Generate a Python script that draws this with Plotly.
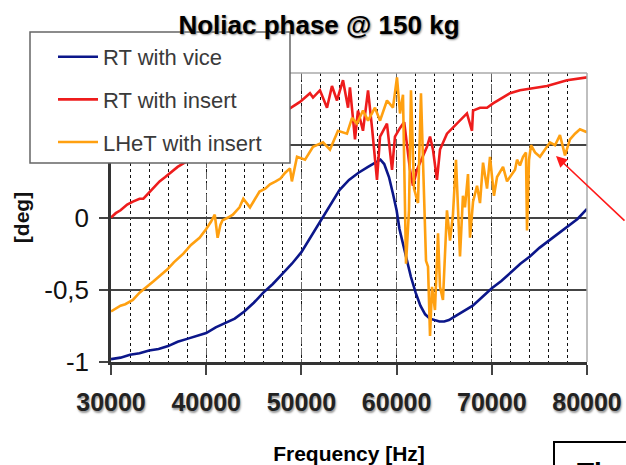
import plotly.graph_objects as go

# ---------------- data ----------------
title_text = "Noliac phase @ 150 kg"
series_names = ["RT with vice", "RT with insert", "LHeT with insert"]
x_tick_vals = [30000, 40000, 50000, 60000, 70000, 80000]
x_tick_text = ["30000", "40000", "50000", "60000", "70000", "80000"]
y_tick_vals = [-1, -0.5, 0, 0.5]
y_tick_text = ["-1", "-0,5", "0", "0,5"]

vice_f = [30000, 31000, 32000, 33000, 34000, 35000, 36000, 37000, 38000, 39000,
          40000, 41000, 42000, 43000, 44000, 45000, 46000, 47000, 48000, 49000,
          50000, 51000, 52000, 53000, 54000, 55000, 56000, 57000, 57500, 58000,
          58300, 58700, 59200, 59600, 60000, 60300, 60700, 61100, 61500, 62000,
          62500, 63000, 63500, 64000, 64500, 65000, 65500, 66000, 66500, 67000,
          68000, 69000, 70000, 71000, 72000, 73000, 74000, 75000, 76000, 77000,
          78000, 79000, 80000]
vice_v = [-0.98, -0.97, -0.95, -0.94, -0.92, -0.91, -0.89, -0.86, -0.84, -0.82,
          -0.80, -0.76, -0.73, -0.70, -0.65, -0.59, -0.52, -0.46, -0.39, -0.32,
          -0.24, -0.13, -0.02, 0.09, 0.19, 0.26, 0.31, 0.35, 0.37, 0.39,
          0.40, 0.37, 0.28, 0.17, 0.05, -0.08, -0.18, -0.30, -0.41, -0.52,
          -0.61, -0.67, -0.70, -0.71, -0.72, -0.72, -0.71, -0.69, -0.67, -0.65,
          -0.61, -0.55, -0.49, -0.44, -0.38, -0.32, -0.27, -0.21, -0.16, -0.11,
          -0.06, -0.01, 0.06]

insert_f = [30000, 30500, 31000, 31700, 32300, 33000, 33400, 34000, 34500, 35100,
            35700, 36300, 37000, 38000, 39000, 40000, 41000, 42000, 43000, 44000,
            45000, 46000, 47000, 48000, 48800, 49850, 50900, 51220, 51950, 52690,
            53210, 53740, 54370, 54900, 55100, 55630, 55940, 56470, 57000, 57420,
            57940, 58260, 58990, 59520, 59830, 60360, 60800, 61410, 61720, 62140,
            63190, 63510, 63820, 64240, 64560, 65290, 65920, 66660, 67390, 67920,
            68030, 68760, 69500, 70130, 70860, 71910, 72960, 73800, 75800, 77900,
            80000]
insert_v = [0.00, 0.03, 0.05, 0.09, 0.11, 0.13, 0.13, 0.17, 0.21, 0.25,
            0.28, 0.31, 0.35, 0.39, 0.43, 0.47, 0.51, 0.55, 0.58, 0.61,
            0.64, 0.67, 0.70, 0.73, 0.755, 0.80, 0.86, 0.83, 0.88, 0.76,
            0.91, 0.81, 0.95, 0.76, 0.90, 0.54, 0.74, 0.60, 0.88, 0.62,
            0.26, 0.56, 0.65, 0.33, 0.56, 0.62, 0.66, 0.33, 0.22, 0.33,
            0.49, 0.56, 0.47, 0.26, 0.47, 0.58, 0.62, 0.67, 0.72, 0.60,
            0.74, 0.76, 0.76, 0.79, 0.82, 0.86, 0.88, 0.89, 0.91, 0.95,
            0.97]

lhet_f = [30000, 30500, 31000, 31500, 32300, 33000, 33800, 34500, 35200, 35900,
          36600, 37600, 38400, 39300, 40000, 40500, 40900, 41200, 41500, 41700,
          42300, 42800, 43500, 43900, 44600, 45200, 45600, 46200, 46700, 47300,
          47800, 48300, 48800, 49000, 49540, 50380, 51220, 52270, 53000, 53840,
          54790, 55320, 55840, 56470, 57000, 57730, 58260, 58990, 59620, 60040,
          60360, 60670, 60990, 61300, 61510, 61830, 62250, 62560, 62880, 63090,
          63300, 63510, 63720, 64030, 64350, 64560, 64870, 65290, 65610, 65920,
          66240, 66660, 66970, 67180, 67500, 67710, 68030, 68450, 68760, 69080,
          69500, 69810, 70230, 70550, 71180, 71600, 71910, 72440, 72650, 72960,
          73280, 73590, 73700, 73910, 74120, 74540, 75060, 75590, 76110, 76640,
          77160, 77690, 78210, 78740, 79260, 80000]
lhet_v = [-0.65, -0.63, -0.61, -0.60, -0.57, -0.52, -0.48, -0.44, -0.40, -0.36,
          -0.31, -0.25, -0.19, -0.14, -0.08, -0.03, 0.02, -0.14, -0.05, -0.02,
          0.00, 0.02, 0.07, 0.13, 0.07, 0.14, 0.18, 0.20, 0.23, 0.25,
          0.27, 0.31, 0.34, 0.25, 0.42, 0.40, 0.49, 0.52, 0.47, 0.60,
          0.58, 0.69, 0.65, 0.74, 0.67, 0.76, 0.67, 0.81, 0.76, 0.97,
          0.72, 0.85, -0.32, 0.05, 0.88, 0.20, 0.10, 0.86, 0.10, -0.30,
          -0.34, -0.82, -0.48, -0.64, -0.11, -0.48, -0.57, 0.05, -0.16, 0.02,
          0.40, -0.27, 0.15, 0.07, 0.30, -0.14, 0.11, 0.22, 0.10, 0.38,
          0.20, 0.42, 0.15, 0.28, 0.35, 0.25, 0.28, 0.33, 0.40, 0.36,
          0.42, 0.45, -0.09, 0.40, 0.50, 0.45, 0.42, 0.47, 0.52, 0.50,
          0.57, 0.43, 0.54, 0.58, 0.61, 0.59]

colors = ["#0b168a", "#ee1c1c", "#ffa010"]
FONT = "Liberation Sans, Arial, sans-serif"

fig = go.Figure()
for i, (fx, fy) in enumerate([(vice_f, vice_v), (insert_f, insert_v), (lhet_f, lhet_v)]):
    fig.add_trace(go.Scatter(x=fx, y=fy, mode="lines", name=series_names[i],
                             legendgroup=f"g{i}",
                             line=dict(color=colors[i], width=2.6)))

W, H = 626, 465
L, R, T, B = 111, 39, 73, 103
pw, ph = W - L - R, H - T - B

def px(xp):
    return (xp - L) / pw

def py(yp):
    return (H - B - yp) / ph

fig.update_layout(
    width=W, height=H, autosize=False,
    margin=dict(l=L, r=R, t=T, b=B, pad=0, autoexpand=False),
    paper_bgcolor="white", plot_bgcolor="white",
    font=dict(family=FONT, color="#111"),
    title=dict(text=title_text, x=319 / W, xref="container", xanchor="center",
               y=1 - 25 / H, yref="container", yanchor="middle",
               font=dict(family=FONT, size=26, weight="bold", color="#000",
                         shadow="1px 1px 2px #888")),
    showlegend=True,
    legend=dict(x=px(53), y=py(36), xanchor="left", yanchor="top",
                bgcolor="rgba(0,0,0,0)", borderwidth=0,
                font=dict(family=FONT, size=22, color="#3a3a3a"),
                itemwidth=40, tracegroupgap=11, traceorder="grouped"),
    xaxis=dict(range=[30000, 80000], tickvals=x_tick_vals, ticktext=x_tick_text,
               automargin=False,
               showgrid=True, gridcolor="#666", griddash="7px,4px", gridwidth=1.3,
               minor=dict(dtick=2000, tick0=30000, showgrid=True, gridcolor="#111",
                          griddash="dot", gridwidth=1.3),
               ticks="outside", ticklen=10, tickwidth=2, tickcolor="#444",
               showline=True, linecolor="#333", linewidth=2.5, zeroline=False,
               ticklabelstandoff=6,
               tickfont=dict(family=FONT, size=25, weight="bold", color="#222",
                             shadow="1px 2px 2px #999"),
               title=dict(text="Frequency [Hz]", standoff=33,
                          font=dict(family=FONT, size=21, weight="bold", color="#000"))),
    yaxis=dict(range=[-1, 1], tickvals=y_tick_vals, ticktext=y_tick_text,
               automargin=False,
               showgrid=True, gridcolor="#444", gridwidth=2, zeroline=False,
               ticks="outside", ticklen=9, tickwidth=2, tickcolor="#444",
               showline=True, linecolor="#333", linewidth=2.5,
               ticklabelstandoff=5,
               tickfont=dict(family=FONT, size=26, color="#111"),
               title=dict(text="[deg]", standoff=9,
                          font=dict(family=FONT, size=21, weight="bold", color="#111"))),
    shapes=[
        # light top/right plot border
        dict(type="line", xref="paper", yref="paper", x0=0, x1=1, y0=1, y1=1,
             line=dict(color="#aaa", width=1.5), layer="above"),
        dict(type="line", xref="paper", yref="paper", x0=1, x1=1, y0=0, y1=1,
             line=dict(color="#aaa", width=1.5), layer="above"),
        # legend box
        dict(type="rect", xref="paper", yref="paper", x0=px(30), x1=px(290),
             y0=py(163), y1=py(32), fillcolor="white",
             line=dict(color="#666", width=1.5), layer="above"),
        # bottom-right box
        dict(type="rect", xref="paper", yref="paper", x0=px(554), x1=px(700),
             y0=py(520), y1=py(442), fillcolor="white",
             line=dict(color="#000", width=2), layer="above"),
    ],
    annotations=[
        dict(xref="paper", yref="paper", x=px(556), y=py(156), text="",
             showarrow=True, ax=75, ay=66, arrowcolor="#ff1a1a", arrowwidth=1.6,
             arrowhead=2, arrowsize=1.4, standoff=0),
        dict(xref="paper", yref="paper", x=px(575), y=py(455), text="<b>Th</b>",
             showarrow=False, xanchor="left", yanchor="top",
             font=dict(family=FONT, size=28, color="#000")),
    ],
)

fig.write_html("out.html")
